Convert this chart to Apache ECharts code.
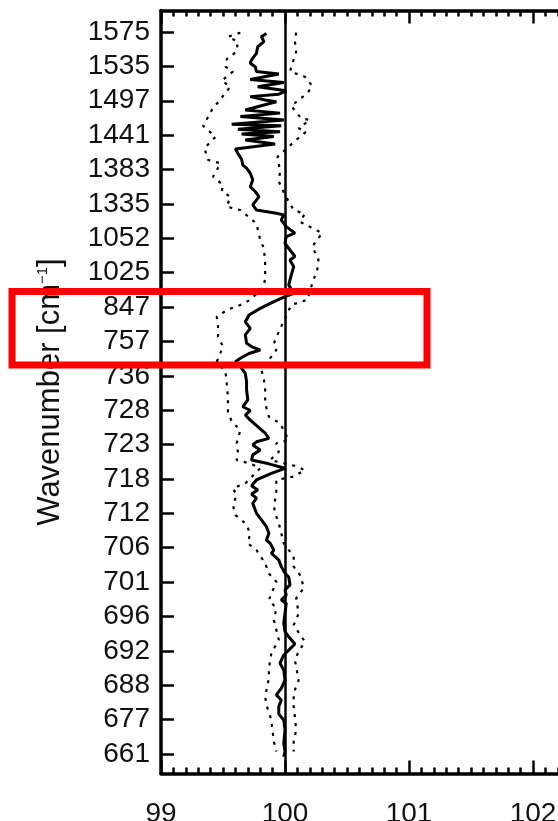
<!DOCTYPE html>
<html>
<head>
<meta charset="utf-8">
<script src="https://cdn.jsdelivr.net/npm/echarts@6/dist/echarts.min.js"></script>
<style>
  html, body { margin: 0; padding: 0; background: #ffffff; }
  #chart { width: 558px; height: 821px; }
</style>
</head>
<body>
<div id="chart"></div>
<script>
// Wavenumber tick labels, bottom (position 0) to top (position 21)
const wavenumberLabels = ['661', '677', '688', '692', '696', '701', '706', '712', '718', '723', '728',
  '736', '757', '847', '1025', '1052', '1335', '1383', '1441', '1497', '1535', '1575'];
const tickPositions = wavenumberLabels.map((_, i) => i);

// X axis tick values
const xTicks = [99, 100, 101, 102, 103];

// Mean curve: position along the wavenumber axis and value
const meanPos = [20.96, 20.86, 20.72, 20.57, 20.38, 20.19, 20.09, 19.99, 19.85, 19.78, 19.62, 19.53, 19.41, 19.29,
  19.19, 19.12, 19.02, 18.97, 18.73, 18.64, 18.54, 18.44, 18.32, 18.27, 18.17, 18.10, 18.03, 17.96, 17.86, 17.74,
  17.60, 17.47, 17.30, 17.13, 17.04, 16.89, 16.70, 16.50, 16.36, 16.21, 15.97, 15.82, 15.73, 15.68, 15.53, 15.34,
  15.15, 15.05, 14.85, 14.66, 14.47, 14.37, 14.17, 13.93, 13.64, 13.40, 13.30, 13.16, 12.96, 12.77, 12.57, 12.38,
  12.19, 11.95, 11.85, 11.75, 11.65, 11.51, 11.41, 11.27, 11.07, 10.83, 10.59, 10.30, 10.10, 9.99, 9.86, 9.71,
  9.52, 9.33, 9.18, 9.08, 8.99, 8.84, 8.70, 8.55, 8.44, 8.31, 8.16, 7.97, 7.80, 7.68, 7.56, 7.44, 7.29, 7.00,
  6.81, 6.61, 6.42, 6.22, 6.13, 5.93, 5.84, 5.64, 5.45, 5.26, 5.15, 4.92, 4.77, 4.62, 4.48, 4.38, 4.09, 3.80,
  3.56, 3.41, 3.20, 3.02, 2.88, 2.64, 2.44, 2.15, 1.91, 1.72, 1.57, 1.38, 1.16, 0.99, 0.70, 0.31, 0.07, -0.08];
const meanVal = [99.85, 99.81, 99.83, 99.78, 99.77, 99.73, 99.72, 99.76, 99.77, 99.95, 99.72, 99.99, 99.78, 100.01,
  99.95, 99.72, 99.84, 99.93, 99.68, 99.96, 99.64, 99.99, 99.57, 99.97, 99.62, 99.96, 99.65, 99.91, 99.68, 99.92,
  99.60, 99.62, 99.65, 99.66, 99.69, 99.72, 99.74, 99.72, 99.76, 99.79, 99.74, 99.77, 99.93, 99.99, 99.97, 100.01,
  100.08, 100.01, 100.00, 100.04, 100.08, 100.04, 100.07, 100.05, 100.03, 100.07, 100.00, 99.91, 99.80, 99.71, 99.68, 99.72,
  99.68, 99.69, 99.73, 99.80, 99.71, 99.64, 99.60, 99.64, 99.68, 99.69, 99.69, 99.70, 99.66, 99.72, 99.68, 99.72,
  99.78, 99.84, 99.87, 99.77, 99.74, 99.80, 99.74, 99.73, 99.87, 100.00, 99.89, 99.77, 99.73, 99.78, 99.73, 99.77, 99.74, 99.77,
  99.81, 99.85, 99.87, 99.85, 99.88, 99.91, 99.89, 99.95, 99.97, 100.00, 100.03, 100.04, 100.00, 100.01, 99.97, 100.01, 100.00, 99.99,
  100.00, 100.03, 100.08, 100.03, 99.99, 99.96, 99.99, 100.00, 99.97, 99.93, 99.97, 99.95, 99.95, 99.99, 100.00, 99.99, 100.00, 99.99];

// Upper bound curve
const upperPos = [20.98, 20.72, 20.43, 19.85, 19.70, 19.43, 19.22, 18.85, 18.49, 18.44, 18.20, 18.10, 17.86, 17.37,
  16.94, 16.65, 16.26, 15.82, 15.71, 15.48, 15.15, 14.76, 14.37, 14.08, 13.69, 13.21, 13.06, 12.28, 11.94, 11.75,
  11.17, 10.88, 10.59, 10.20, 9.81, 9.62, 9.13, 9.04, 8.79, 8.55, 8.38, 8.26, 8.07, 7.97, 7.53, 7.24, 7.00, 6.71,
  6.13, 5.74, 5.45, 5.16, 4.82, 4.53, 4.09, 3.75, 3.27, 2.98, 2.73, 2.15, 1.77, 1.38, 1.08, 0.70, 0.36, 0.07];
const upperVal = [100.09, 100.08, 100.09, 100.04, 100.16, 100.22, 100.18, 100.05, 100.13, 100.20, 100.11, 100.17, 100.09, 99.94,
  99.96, 99.95, 100.00, 100.07, 100.16, 100.12, 100.30, 100.22, 100.27, 100.26, 100.22, 100.18, 100.05, 99.95, 99.91, 99.93,
  99.81, 99.83, 99.84, 99.84, 99.87, 99.96, 100.03, 99.93, 99.95, 99.88, 100.08, 100.16, 100.07, 99.93, 99.93, 99.91, 99.92, 99.95,
  99.99, 100.07, 100.07, 100.13, 100.15, 100.09, 100.11, 100.07, 100.16, 100.11, 100.08, 100.11, 100.07, 100.07, 100.08, 100.09, 100.07, 100.07];

// Lower bound curve
const lowerPos = [20.98, 20.86, 20.72, 20.43, 20.21, 19.99, 19.85, 19.58, 19.41, 18.73, 18.27, 17.95, 17.62, 17.28,
  17.18, 16.79, 16.55, 16.36, 16.21, 15.92, 15.82, 15.43, 14.95, 14.71, 14.27, 13.88, 13.59, 13.21, 13.06, 12.93,
  12.72, 12.43, 12.14, 11.85, 11.41, 11.12, 10.78, 10.39, 9.96, 9.67, 9.42, 9.04, 8.79, 8.55, 8.45, 8.31, 7.87,
  7.73, 7.53, 7.24, 6.95, 6.71, 6.42, 6.13, 5.93, 5.55, 5.25, 5.01, 4.48, 4.24, 3.90, 3.61, 3.32, 2.93, 2.49,
  2.20, 1.67, 1.43, 0.99, 0.36, 0.07];
const lowerVal = [99.64, 99.54, 99.62, 99.61, 99.53, 99.52, 99.58, 99.49, 99.56, 99.41, 99.34, 99.44, 99.35, 99.38,
  99.48, 99.42, 99.50, 99.49, 99.56, 99.53, 99.64, 99.77, 99.80, 99.83, 99.84, 99.84, 99.83, 99.72, 99.64, 99.54,
  99.45, 99.46, 99.46, 99.50, 99.45, 99.52, 99.53, 99.54, 99.54, 99.57, 99.64, 99.61, 99.62, 99.61, 99.72, 99.80, 99.68,
  99.58, 99.61, 99.58, 99.60, 99.68, 99.72, 99.70, 99.77, 99.84, 99.87, 99.93, 99.87, 99.93, 99.91, 99.93, 99.95, 99.89, 99.87,
  99.87, 99.84, 99.85, 99.89, 99.91, 99.93];

const pair = (vals, pos) => vals.map((v, i) => [v, pos[i]]);

const FONT = 'Liberation Sans';
const black = '#000000';

const xAxisCommon = {
  type: 'value',
  min: xTicks[0],
  max: xTicks[xTicks.length - 1],
  interval: 1,
  splitLine: { show: false },
  axisLine: { show: true, onZero: false, lineStyle: { color: black, width: 3.5 } },
  axisTick: { show: true, inside: true, length: 13, lineStyle: { color: black, width: 2.5 } },
  minorTick: { show: true, splitNumber: 10, length: 6, lineStyle: { color: black, width: 2.5 } },
  minorSplitLine: { show: false }
};

const chart = echarts.init(document.getElementById('chart'), null, { renderer: 'canvas' });

chart.setOption({
  animation: false,
  backgroundColor: '#ffffff',
  grid: { left: 161, top: 10.5, width: 496, height: 763, outerBoundsMode: 'none' },
  xAxis: [
    Object.assign({}, xAxisCommon, {
      position: 'bottom',
      axisLabel: {
        show: true, margin: 27, color: '#111', fontFamily: FONT, fontSize: 28,
        customValues: xTicks.slice(0, 4)
      }
    }),
    Object.assign({}, xAxisCommon, {
      position: 'top',
      axisLabel: { show: false }
    })
  ],
  yAxis: {
    type: 'value',
    min: -0.567,
    max: 21.625,
    name: 'Wavenumber [cm{sup|−1}]',
    nameLocation: 'middle',
    nameGap: 95,
    nameTextStyle: {
      fontFamily: FONT, fontSize: 31, color: '#111',
      rich: { sup: { fontFamily: FONT, fontSize: 15, color: '#111', verticalAlign: 'top', padding: [0, 0, 12, 0] } }
    },
    splitLine: { show: false },
    axisLine: { show: true, onZero: false, lineStyle: { color: black, width: 3.5 } },
    axisTick: { show: true, inside: true, length: 13, customValues: tickPositions, lineStyle: { color: black, width: 2.5 } },
    axisLabel: {
      show: true, margin: 11, color: '#111', fontFamily: FONT, fontSize: 28,
      customValues: tickPositions,
      formatter: (v) => wavenumberLabels[Math.round(v)]
    }
  },
  series: [
    {
      name: 'mean', type: 'line', xAxisIndex: 0, data: pair(meanVal, meanPos),
      symbol: 'none', lineStyle: { color: black, width: 3 }, z: 3,
      markLine: {
        silent: true, symbol: ['none', 'none'], label: { show: false },
        lineStyle: { color: black, width: 2.5, type: 'solid' },
        data: [{ xAxis: 100 }]
      }
    },
    {
      name: 'upper', type: 'line', xAxisIndex: 0, data: pair(upperVal, upperPos),
      symbol: 'none', lineStyle: { color: black, width: 2.2, type: [3, 6] }, z: 2
    },
    {
      name: 'lower', type: 'line', xAxisIndex: 0, data: pair(lowerVal, lowerPos),
      symbol: 'none', lineStyle: { color: black, width: 2.2, type: [3, 6] }, z: 2
    }
  ],
  graphic: [
    {
      type: 'rect', z: 100,
      shape: { x: 12, y: 291.5, width: 415, height: 73.5 },
      style: { fill: null, stroke: '#ff0000', lineWidth: 7 }
    }
  ]
});
</script>
</body>
</html>
